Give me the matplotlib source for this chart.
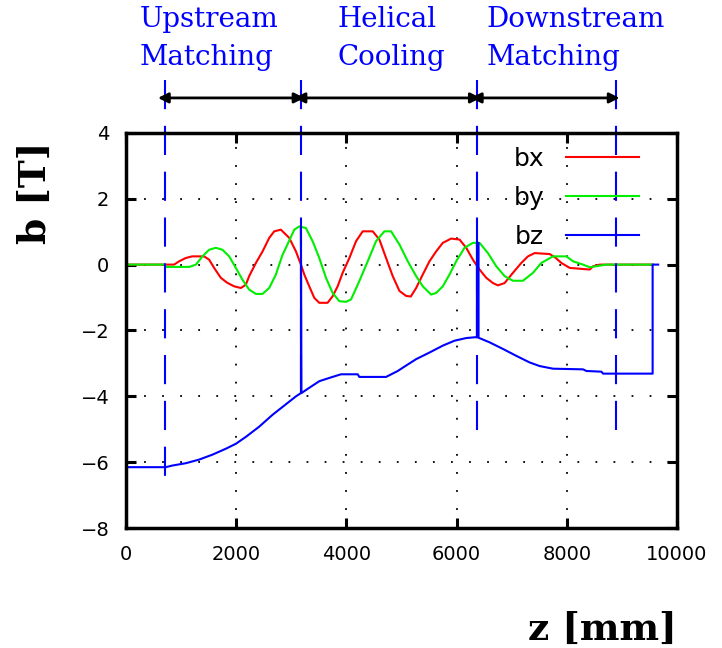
import matplotlib.pyplot as plt

# field components (z in mm, b in T)
z_bx = [0, 700, 873, 964, 1085, 1200, 1418, 1509, 1600, 1721, 1836, 1964, 2085,
        2176, 2236, 2358, 2479, 2600, 2691, 2812, 2964, 3085, 3176, 3236, 3327,
        3418, 3509, 3660, 3751, 3842, 3933, 4055, 4176, 4297, 4479, 4600, 4721,
        4842, 4964, 5085, 5170, 5267, 5388, 5509, 5630, 5751, 5903, 6055, 6176,
        6297, 6418, 6539, 6661, 6751, 6873, 7024, 7176, 7297, 7418, 7691, 7782,
        7903, 8055, 8418, 8480, 8600, 9560]
bx = [0, 0, 0, 0.1, 0.2, 0.25, 0.25, 0.15, -0.1, -0.4, -0.55, -0.66, -0.71,
      -0.61, -0.35, 0.05, 0.4, 0.81, 1.01, 1.06, 0.81, 0.4, 0.0, -0.3, -0.66,
      -1.01, -1.16, -1.16, -0.96, -0.66, -0.25, 0.2, 0.71, 1.01, 1.01, 0.76, 0.2,
      -0.35, -0.8, -0.95, -0.97, -0.71, -0.3, 0.1, 0.4, 0.66, 0.79, 0.76, 0.51,
      0.15, -0.15, -0.4, -0.56, -0.63, -0.56, -0.25, 0.05, 0.25, 0.35, 0.32, 0.23,
      0.05, -0.1, -0.15, -0.05, 0.0, 0.0]

z_by = [0, 700, 720, 1150, 1270, 1388, 1509, 1630, 1751, 1873, 1994, 2115, 2236,
        2358, 2479, 2600, 2721, 2842, 2903, 3055, 3145, 3266, 3388, 3509, 3630,
        3751, 3873, 3994, 4085, 4236, 4388, 4539, 4691, 4812, 4964, 5115, 5267,
        5388, 5539, 5630, 5751, 5873, 5994, 6145, 6297, 6418, 6570, 6721, 6873,
        7024, 7206, 7388, 7539, 7751, 7994, 8115, 8297, 8418, 8721, 9560]
by = [0, 0, -0.07, -0.07, 0.0, 0.25, 0.45, 0.51, 0.45, 0.25, -0.1, -0.46, -0.76,
      -0.89, -0.89, -0.71, -0.3, 0.3, 0.51, 1.06, 1.16, 1.11, 0.71, 0.2, -0.4,
      -0.86, -1.11, -1.13, -1.06, -0.5, 0.1, 0.71, 1.01, 1.01, 0.61, 0.1, -0.35,
      -0.66, -0.91, -0.86, -0.66, -0.3, 0.1, 0.51, 0.66, 0.66, 0.35, -0.05, -0.35,
      -0.49, -0.49, -0.25, 0.05, 0.25, 0.25, 0.1, 0.0, -0.08, 0.0, 0.0]

z_bz = [0, 721, 842, 1085, 1327, 1569, 1812, 1994, 2176, 2418, 2660, 2903, 3085,
        3176, 3176, 3185, 3327, 3509, 3691, 3903, 4206, 4236, 4721, 4933, 5024,
        5267, 5509, 5751, 5964, 6176, 6370, 6370, 6400, 6400, 6600, 6842, 7085,
        7327, 7509, 7751, 8297, 8358, 8630, 8660, 9560, 9560, 9660]
bz = [-6.15, -6.15, -6.1, -6.03, -5.92, -5.77, -5.59, -5.44, -5.23, -4.92, -4.56,
      -4.24, -4.0, -3.9, 1.15, -3.9, -3.74, -3.54, -3.44, -3.33, -3.33, -3.41,
      -3.41, -3.23, -3.13, -2.87, -2.67, -2.46, -2.31, -2.23, -2.2, 0.66, 0.66,
      -2.22, -2.36, -2.56, -2.77, -2.97, -3.08, -3.16, -3.18, -3.23, -3.25, -3.31,
      -3.31, 0.0, 0.0]

# section boundaries and labels
bounds = [700, 3180, 6380, 8900]
bound_bottom = [-6.72, -3.94, -5.5, -5.3]
sections = ['Upstream\nMatching', 'Helical\nCooling', 'Downstream\nMatching']
section_left = [255, 3836, 6545]

fig = plt.figure(figsize=(7.22, 6.48), dpi=100)
ax = fig.add_axes([0.1745, 0.185, 0.763, 0.61])

ax.plot(z_bx, bx, color='#ff0000', lw=1.5, label='bx')
ax.plot(z_by, by, color='#00ee00', lw=1.5, label='by')
ax.plot(z_bz, bz, color='#0000ff', lw=1.5, label='bz')

ax.set_xlim(0, 10000)
ax.set_ylim(-8, 4)
ax.set_xticks(range(0, 10001, 2000))
ax.set_yticks(range(-8, 5, 2))
ax.grid(True, color='black', linestyle=(0, (1, 9)), lw=1.3)
ax.tick_params(direction='in', length=7, width=2.2, top=True, right=True,
               labelsize=14, pad=12)
for s in ax.spines.values():
    s.set_linewidth(2.5)

ax.set_xlabel('z [mm]', fontsize=27, fontweight='bold', family='DejaVu Serif')
ax.xaxis.set_label_coords(0.864, -0.21)
ax.set_ylabel('b [T]', fontsize=27, fontweight='bold', family='DejaVu Serif')
ax.yaxis.set_label_coords(-0.131, 0.848)

leg = ax.legend(loc='upper right', markerfirst=False, frameon=False,
                fontsize=18, handlelength=2.9, handletextpad=0.88,
                labelspacing=0.6, borderpad=0, borderaxespad=0,
                bbox_to_anchor=(0.931, 0.965))

# dashed section boundaries reaching above the plot
for zb, yb in zip(bounds, bound_bottom):
    ax.plot([zb, zb], [5.6, yb], color='#0000ff', lw=1.5,
            dashes=(14, 8), clip_on=False)

# double arrows between the boundaries
for a, b in zip(bounds[:-1], bounds[1:]):
    ax.annotate('', xy=(a - 120, 5.06), xytext=(b + 60, 5.06),
                annotation_clip=False,
                arrowprops=dict(arrowstyle='<|-|>', color='black', lw=2,
                                mutation_scale=15, shrinkA=0, shrinkB=0))

# section titles
for name, zl in zip(sections, section_left):
    ax.text(zl, 6.86, name, color='#0000ff', fontsize=20,
            family='DejaVu Serif', ha='left', va='center', linespacing=1.5)

fig.savefig('out.png', dpi=100)
